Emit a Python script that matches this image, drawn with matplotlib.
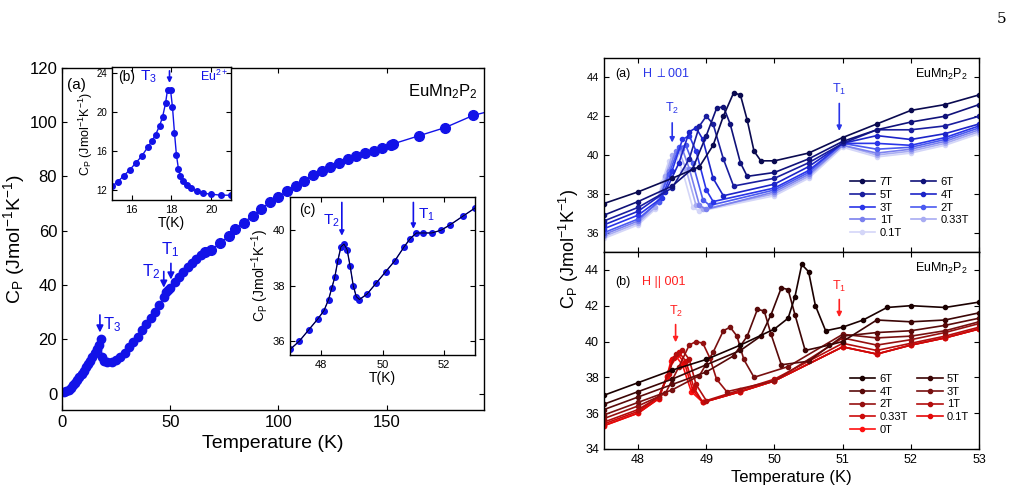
import matplotlib.pyplot as plt
import matplotlib.colors as mcolors

# ---- main panel (a), zero field
main_T = [1, 2, 3, 4, 5, 6, 7, 8, 9, 10, 11, 12, 13, 14, 15, 16, 17, 17.8, 18.5, 19.5, 21, 23, 25, 27,
          29, 31, 33, 35, 37, 39, 41, 43, 45, 47, 48, 49, 50, 52, 54, 56, 58, 60, 62, 64, 66]
main_C = [0.5, 1.0, 1.5, 2.2, 3.0, 3.9, 4.9, 6.0, 7.2, 8.5, 9.8, 11.0, 12.2, 13.5, 15.0, 16.5, 18.0, 20.0,
          13.5, 12.0, 11.5, 11.7, 12.3, 13.5, 15.0, 17.0, 19.0, 21.0, 23.3, 25.5, 27.8, 30.0, 32.5, 35.5,
          37.5, 38.0, 39.0, 41.0, 43.0, 44.8, 46.5, 48.0, 49.5, 51.0, 52.3]
high_T = [69, 73, 77, 80, 84, 88, 92, 96, 100, 104, 108, 112, 116, 120, 124, 128, 132, 136, 140,
          144, 148, 152, 153, 165, 177, 190]
high_C = [53.0, 55.5, 58.0, 60.5, 63.0, 65.5, 68.0, 70.5, 72.5, 74.5, 76.5, 78.5, 80.5, 82.0, 83.5,
          85.0, 86.5, 87.5, 88.5, 89.5, 90.5, 91.5, 92.0, 95.0, 98.0, 102.5]

# ---- inset (b), Eu2+ ordering
b_T = [15, 15.3, 15.6, 15.9, 16.2, 16.5, 16.8, 17.0, 17.2, 17.4, 17.55, 17.7, 17.8, 17.95, 18.05,
       18.15, 18.25, 18.35, 18.45, 18.6, 18.8, 19.0, 19.3, 19.6, 20.0, 20.5, 21.0]
b_C = [12.4, 12.9, 13.5, 14.1, 14.8, 15.5, 16.4, 17.0, 17.7, 18.6, 19.5, 20.9, 22.3, 22.3, 20.5,
       17.9, 15.6, 14.2, 13.5, 13.0, 12.5, 12.2, 11.9, 11.7, 11.6, 11.5, 11.5]

# ---- inset (c), Mn transitions
c_T = [47.0, 47.3, 47.6, 47.9, 48.1, 48.25, 48.35, 48.45, 48.55, 48.65, 48.75, 48.85, 48.95, 49.05,
       49.15, 49.25, 49.5, 49.8, 50.1, 50.4, 50.7, 50.9, 51.1, 51.3, 51.6, 51.9, 52.2, 52.6, 53.0]
c_C = [35.7, 36.0, 36.4, 36.8, 37.1, 37.5, 37.9, 38.3, 38.9, 39.4, 39.5, 39.3, 38.7, 38.0, 37.6,
       37.5, 37.7, 38.1, 38.5, 38.9, 39.4, 39.7, 39.9, 39.9, 39.9, 40.0, 40.2, 40.5, 40.8]

# ---- H perpendicular to 001
perp_labels = ['7T', '6T', '5T', '4T', '3T', '2T', '1T', '0.33T', '0.1T']
perp_T = [
    [47.5, 48.0, 48.5, 48.9, 49.1, 49.25, 49.4, 49.5, 49.6, 49.7, 49.8, 50.0, 50.5, 51.0, 51.5, 52.0, 52.5, 53.0],
    [47.5, 48.0, 48.5, 48.8, 49.0, 49.15, 49.25, 49.35, 49.5, 49.6, 50.0, 50.5, 51.0, 51.5, 52.0, 52.5, 53.0],
    [47.5, 48.0, 48.5, 48.75, 48.9, 49.0, 49.1, 49.25, 49.4, 50.0, 50.5, 51.0, 51.5, 52.0, 52.5, 53.0],
    [47.5, 48.0, 48.4, 48.6, 48.75, 48.85, 48.95, 49.1, 49.25, 50.0, 50.5, 51.0, 51.5, 52.0, 52.5, 53.0],
    [47.5, 48.0, 48.35, 48.5, 48.65, 48.75, 48.85, 49.0, 49.1, 50.0, 50.5, 51.0, 51.5, 52.0, 52.5, 53.0],
    [47.5, 48.0, 48.3, 48.45, 48.6, 48.7, 48.8, 48.95, 49.05, 50.0, 50.5, 51.0, 51.5, 52.0, 52.5, 53.0],
    [47.5, 48.0, 48.3, 48.45, 48.55, 48.65, 48.75, 48.9, 49.0, 50.0, 50.5, 51.0, 51.5, 52.0, 52.5, 53.0],
    [47.5, 48.0, 48.25, 48.4, 48.5, 48.6, 48.7, 48.85, 48.95, 50.0, 50.5, 51.0, 51.5, 52.0, 52.5, 53.0],
    [47.5, 48.0, 48.25, 48.35, 48.45, 48.55, 48.65, 48.8, 48.9, 50.0, 50.5, 51.0, 51.5, 52.0, 52.5, 53.0],
]
perp_C = [
    [37.5, 38.1, 38.8, 39.4, 40.5, 42.0, 43.2, 43.1, 41.8, 40.2, 39.7, 39.7, 40.1, 40.9, 41.6, 42.3, 42.6, 43.1],
    [36.9, 37.6, 38.4, 39.3, 41.0, 42.4, 42.5, 41.6, 39.6, 38.9, 39.1, 39.8, 40.7, 41.3, 41.7, 42.0, 42.6],
    [36.6, 37.3, 38.3, 39.8, 41.5, 42.0, 41.6, 39.8, 38.4, 38.8, 39.6, 40.6, 41.3, 41.3, 41.5, 42.0],
    [36.4, 37.1, 38.1, 39.6, 41.2, 41.4, 40.8, 38.8, 37.9, 38.5, 39.4, 40.6, 41.0, 40.8, 41.1, 41.6],
    [36.2, 36.9, 37.8, 39.2, 40.8, 41.0, 40.2, 38.2, 37.6, 38.3, 39.2, 40.6, 40.6, 40.5, 40.9, 41.5],
    [36.0, 36.7, 37.6, 39.0, 40.4, 40.5, 39.6, 37.7, 37.4, 38.2, 39.1, 40.6, 40.3, 40.4, 40.8, 41.4],
    [35.9, 36.6, 37.6, 39.2, 40.2, 40.3, 39.3, 37.4, 37.2, 38.1, 39.0, 40.5, 40.1, 40.3, 40.7, 41.3],
    [35.8, 36.5, 37.3, 38.9, 40.0, 40.2, 39.3, 37.4, 37.2, 38.0, 38.9, 40.5, 40.0, 40.2, 40.6, 41.2],
    [35.7, 36.4, 37.2, 38.6, 39.7, 40.0, 39.2, 37.3, 37.1, 37.9, 38.8, 40.4, 39.9, 40.1, 40.5, 41.1],
]

# ---- H parallel to 001
par_labels = ['6T', '5T', '4T', '3T', '2T', '1T', '0.33T', '0.1T', '0T']
par_T = [
    [47.5, 48.0, 48.5, 49.0, 49.5, 50.0, 50.2, 50.3, 50.4, 50.5, 50.6, 50.75, 51.0, 51.3, 51.65, 52.0, 52.5, 53.0],
    [47.5, 48.0, 48.5, 49.0, 49.5, 49.8, 49.95, 50.1, 50.2, 50.3, 50.45, 50.8, 51.0, 51.5, 52.0, 52.5, 53.0],
    [47.5, 48.0, 48.5, 49.0, 49.4, 49.6, 49.75, 49.85, 49.95, 50.1, 50.5, 51.0, 51.5, 52.0, 52.5, 53.0],
    [47.5, 48.0, 48.5, 48.9, 49.1, 49.25, 49.35, 49.45, 49.55, 49.7, 50.2, 51.0, 51.5, 52.0, 52.5, 53.0],
    [47.5, 48.0, 48.4, 48.6, 48.75, 48.85, 48.95, 49.05, 49.15, 49.3, 50.0, 51.0, 51.5, 52.0, 52.5, 53.0],
    [47.5, 48.0, 48.3, 48.45, 48.55, 48.65, 48.75, 48.85, 49.0, 49.5, 50.0, 51.0, 51.5, 52.0, 52.5, 53.0],
    [47.5, 48.0, 48.3, 48.45, 48.52, 48.6, 48.7, 48.82, 48.95, 49.5, 50.0, 51.0, 51.5, 52.0, 52.5, 53.0],
    [47.5, 48.0, 48.3, 48.43, 48.5, 48.58, 48.68, 48.8, 48.95, 49.5, 50.0, 51.0, 51.5, 52.0, 52.5, 53.0],
    [47.5, 48.0, 48.3, 48.42, 48.48, 48.55, 48.65, 48.78, 48.95, 49.5, 50.0, 51.0, 51.5, 52.0, 52.5, 53.0],
]
par_C = [
    [37.0, 37.7, 38.4, 39.0, 39.8, 40.7, 41.3, 42.5, 44.3, 43.9, 42.0, 40.6, 40.8, 41.2, 41.9, 42.0, 41.9, 42.2],
    [36.5, 37.2, 37.9, 38.7, 39.5, 40.3, 41.5, 43.0, 42.9, 41.5, 39.5, 39.8, 40.0, 41.2, 41.1, 41.2, 41.6],
    [36.2, 36.9, 37.6, 38.3, 39.2, 40.3, 41.8, 41.7, 40.4, 38.7, 38.9, 40.3, 40.5, 40.6, 40.9, 41.3],
    [35.9, 36.6, 37.3, 38.1, 39.4, 40.6, 40.8, 40.3, 39.0, 38.0, 38.6, 40.4, 40.2, 40.3, 40.6, 41.1],
    [35.7, 36.4, 37.1, 38.6, 39.8, 40.0, 39.9, 39.1, 37.9, 37.2, 37.8, 40.2, 39.8, 40.1, 40.5, 41.0],
    [35.5, 36.2, 36.9, 38.3, 39.3, 39.5, 39.0, 37.6, 36.7, 37.3, 37.9, 39.9, 39.5, 39.9, 40.3, 40.8],
    [35.4, 36.1, 36.9, 38.2, 39.1, 39.4, 38.9, 37.4, 36.6, 37.2, 37.8, 39.7, 39.3, 39.8, 40.2, 40.7],
    [35.3, 36.0, 36.8, 38.1, 39.0, 39.3, 38.8, 37.3, 36.6, 37.2, 37.8, 39.7, 39.3, 39.8, 40.2, 40.7],
    [35.3, 36.0, 36.8, 38.0, 38.9, 39.2, 38.7, 37.2, 36.6, 37.2, 37.8, 39.7, 39.3, 39.8, 40.2, 40.7],
]

perp_cols = ['#0a0a50', '#10127a', '#1a1e9e', '#1c24c8', '#2a35e8', '#4b5af0', '#7a80ee', '#a8acf2', '#d4d6f8']
par_cols = ['#1a0000', '#3c0505', '#5a0a0a', '#781010', '#961010', '#b30d0d', '#cc0a0a', '#e40808', '#ff1010']

blue = '#1212e8'
cp_label = r'C$_\mathrm{P}$ (Jmol$^\mathrm{-1}$K$^\mathrm{-1}$)'
plt.rcParams['font.family'] = ['Liberation Sans', 'DejaVu Sans']
plt.rcParams['mathtext.fontset'] = 'custom'
plt.rcParams['mathtext.rm'] = 'Liberation Sans'
plt.rcParams['mathtext.it'] = 'Liberation Sans:italic'


def style(ax, size=10):
    ax.tick_params(direction='in', top=True, right=True, labelsize=size)
    for s in ax.spines.values():
        s.set_linewidth(1.0)


fig = plt.figure(figsize=(10.22, 4.88), dpi=100)
fig.text(0.985, 0.975, '5', ha='right', va='top', fontsize=11, family='DejaVu Serif')

# ---- left main
ax = fig.add_axes([0.0607, 0.160, 0.413, 0.701])
ax.plot(main_T, main_C, '-o', color=blue, ms=6, lw=1)
ax.plot([main_T[-1]] + high_T, [main_C[-1]] + high_C, '-o', color=blue, ms=7, lw=1)
ax.plot([high_T[-1], 195], [high_C[-1], 103.5], '-', color=blue, lw=1)
ax.set_xlim(0, 195)
ax.set_ylim(-6, 120)
ax.set_xticks([0, 50, 100, 150])
ax.set_yticks(range(0, 121, 20))
style(ax, 12)
ax.set_xlabel('Temperature (K)', fontsize=14)
ax.set_ylabel(cp_label, fontsize=14, labelpad=2)
ax.text(0.985, 0.93, r'EuMn$_2$P$_2$', transform=ax.transAxes, ha='right', va='center', fontsize=12)
ax.text(0.012, 0.95, '(a)', transform=ax.transAxes, fontsize=11, va='center')
arr = dict(arrowstyle='-|>', color=blue, lw=1.2, mutation_scale=10)
ax.annotate('', xy=(17.5, 21.5), xytext=(17.5, 30), arrowprops=arr)
ax.text(19, 25.5, r'T$_3$', color=blue, fontsize=12, va='center')
ax.annotate('', xy=(47, 38), xytext=(47, 46), arrowprops=arr)
ax.text(45.5, 45, r'T$_2$', color=blue, fontsize=12, ha='right', va='center')
ax.annotate('', xy=(50.3, 41), xytext=(50.3, 49), arrowprops=arr)
ax.text(50, 53, r'T$_1$', color=blue, fontsize=12, ha='center', va='center')

# ---- inset b
axb = fig.add_axes([0.1096, 0.590, 0.1164, 0.2725])
axb.plot(b_T, b_C, '-o', color=blue, ms=4, lw=1)
axb.set_xlim(15, 21)
axb.set_ylim(11, 24.6)
axb.set_xticks([16, 18, 20])
axb.set_yticks([12, 16, 20, 24])
style(axb, 8)
axb.tick_params(axis='y', labelsize=7)
axb.set_xlabel('T(K)', fontsize=10, labelpad=1)
axb.set_ylabel(cp_label, fontsize=9, labelpad=1)
axb.text(15.3, 23.2, '(b)', fontsize=10)
axb.text(16.4, 23.2, r'T$_3$', color=blue, fontsize=11)
axb.text(20.85, 23.2, r'Eu$^{2+}$', color=blue, fontsize=9, ha='right')
axb.annotate('', xy=(17.9, 22.7), xytext=(17.9, 24.5), arrowprops=dict(arr, mutation_scale=7))

# ---- inset c
axc = fig.add_axes([0.2838, 0.2725, 0.181, 0.324])
axc.plot(c_T, c_C, '-o', color=blue, ms=4, lw=1, mec=blue)
axc.plot(c_T, c_C, '-', color='k', lw=0.6)
axc.set_xlim(47, 53)
axc.set_ylim(35.5, 41.2)
axc.set_xticks([48, 50, 52])
axc.set_yticks([36, 38, 40])
style(axc, 8)
axc.set_xlabel('T(K)', fontsize=10, labelpad=1)
axc.set_ylabel(cp_label, fontsize=10, labelpad=1)
axc.text(47.3, 40.6, '(c)', fontsize=10)
axc.annotate('', xy=(48.68, 39.7), xytext=(48.68, 41.1), arrowprops=dict(arr, mutation_scale=7))
axc.text(48.6, 40.2, r'T$_2$', color=blue, fontsize=11, ha='right')
axc.annotate('', xy=(51.0, 39.95), xytext=(51.0, 41.1), arrowprops=dict(arr, mutation_scale=7))
axc.text(51.15, 40.4, r'T$_1$', color=blue, fontsize=11)

# ---- right panels
ax1 = fig.add_axes([0.591, 0.4836, 0.367, 0.3975])
ax2 = fig.add_axes([0.591, 0.080, 0.367, 0.4037], sharex=ax1)


def draw(axx, Ts, Cs, labels, cols):
    hs = {}
    # low fields drawn last so they sit on top, as in the figure
    for t, c, lab, col in list(zip(Ts, Cs, labels, cols))[::-1]:
        h, = axx.plot(t, c, '-o', color=col, ms=3, lw=1.2, label=lab)
        hs[lab] = h
    seq = [hs[l] for l in labels]
    order = seq[::2] + seq[1::2]
    axx.legend(order, [h.get_label() for h in order], ncol=2, frameon=False, fontsize=8,
               loc='lower right', bbox_to_anchor=(1.0, 0.02), handlelength=2.3,
               columnspacing=0.8, labelspacing=0.25, handletextpad=0.4)


draw(ax1, perp_T, perp_C, perp_labels, perp_cols)
draw(ax2, par_T, par_C, par_labels, par_cols)

ax1.set_xlim(47.5, 53)
ax1.set_ylim(35, 45)
ax1.set_yticks([36, 38, 40, 42, 44])
ax2.set_ylim(34, 45)
ax2.set_yticks([34, 36, 38, 40, 42, 44])
ax2.set_xticks([48, 49, 50, 51, 52, 53])
style(ax1, 8)
style(ax2, 9)
ax1.tick_params(axis='x', labelbottom=False)
ax2.set_xlabel('Temperature (K)', fontsize=12, labelpad=3)
fig.text(0.557, 0.49, cp_label, rotation=90, ha='center', va='center', fontsize=13)

ax1.text(0.03, 0.9, '(a)', transform=ax1.transAxes, fontsize=9)
ax1.text(0.10, 0.9, r'H $\perp$001', transform=ax1.transAxes, fontsize=9, color='#2a35e8')
ax1.text(0.97, 0.9, r'EuMn$_2$P$_2$', transform=ax1.transAxes, fontsize=9, ha='right')
ax1.annotate('', xy=(48.5, 40.5), xytext=(48.5, 41.8), arrowprops=dict(arr, color='#2a35e8', mutation_scale=7))
ax1.text(48.5, 42.2, r'T$_2$', color='#2a35e8', fontsize=9, ha='center')
ax1.annotate('', xy=(50.95, 41.1), xytext=(50.95, 42.8), arrowprops=dict(arr, color='#2a35e8', mutation_scale=7))
ax1.text(50.95, 43.2, r'T$_1$', color='#2a35e8', fontsize=9, ha='center')

ax2.text(0.03, 0.83, '(b)', transform=ax2.transAxes, fontsize=9)
ax2.text(0.10, 0.83, 'H || 001', transform=ax2.transAxes, fontsize=9, color='#ff2020')
ax2.text(0.97, 0.9, r'EuMn$_2$P$_2$', transform=ax2.transAxes, fontsize=9, ha='right')
ax2.annotate('', xy=(48.55, 39.8), xytext=(48.55, 41.1), arrowprops=dict(arr, color='#ff2020', mutation_scale=7))
ax2.text(48.55, 41.5, r'T$_2$', color='#ff2020', fontsize=9, ha='center')
ax2.annotate('', xy=(50.95, 41.2), xytext=(50.95, 42.5), arrowprops=dict(arr, color='#ff2020', mutation_scale=7))
ax2.text(50.95, 42.9, r'T$_1$', color='#ff2020', fontsize=9, ha='center')

fig.savefig('out.png', dpi=100)
